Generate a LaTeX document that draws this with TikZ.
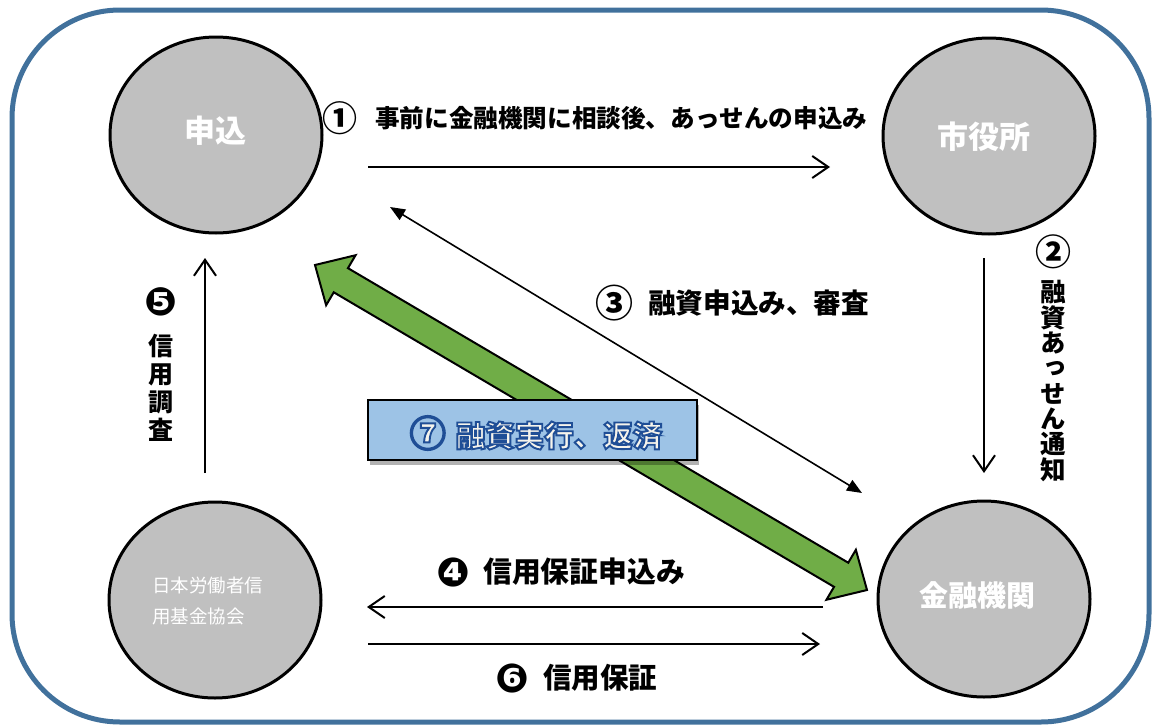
\documentclass[tikz,border=0pt]{standalone}
\usepackage{fontspec}
\usetikzlibrary{arrows.meta,shapes.geometric,calc,shadows}
\newfontfamily\jp{Noto Sans CJK JP}
\newfontfamily\jpv{Noto Sans CJK JP}[RawFeature=+vert]
\newfontfamily\dv{DejaVu Sans}
\definecolor{frameblue}{RGB}{65,113,156}
\definecolor{circgray}{RGB}{192,192,192}
\definecolor{arrgreen}{RGB}{112,173,71}
\definecolor{boxblue}{RGB}{157,195,230}
\definecolor{olblue}{RGB}{31,78,150}
\definecolor{oltxt}{RGB}{246,244,236}
% text filled in cream and stroked in blue (PDF text render mode 2)
\newcommand\outlinedtext[1]{\leavevmode\textcolor{oltxt}{%
  \special{pdf:literal direct 2 Tr 1.9 w 0.122 0.306 0.588 RG}#1%
  \special{pdf:literal direct 0 Tr}}}
\begin{document}
\begin{tikzpicture}[x=1pt,y=-1pt,
  station/.style={ellipse, draw=black, line width=3pt, fill=circgray,
    minimum width=212pt, minimum height=196pt, inner sep=0pt},
  ctext/.style={text=white, inner sep=0pt, font={\jp\bfseries\fontsize{31}{31}\selectfont}},
  flowarrow/.style={line width=2pt, -{Straight Barb[length=16pt,width=22pt,line width=2pt]}},
  thinarrow/.style={line width=1.6pt, {Triangle[length=15pt,width=12pt]}-{Triangle[length=15pt,width=12pt]}},
  heavylbl/.style={inner sep=0pt, anchor=west},
  numlbl/.style={inner sep=0pt},
  greenarrow/.style={fill=arrgreen, draw=black, line width=2pt, line join=miter},
  box7/.style={draw=black, line width=1.5pt, fill=boxblue, inner sep=0pt,
    minimum width=329pt, minimum height=60pt,
    drop shadow={shadow xshift=2pt, shadow yshift=-5pt, opacity=0.3, fill=black}}
]
\useasboundingbox (0,0) rectangle (1152,726);
% frame
\draw[frameblue, line width=5pt, rounded corners=108pt] (12,10) rectangle (1149,722);

% stations
\node[station] (shin) at (216,135) {};
\node[station] (shiyaku) at (989,136) {};
\node[station] (kinyu) at (984,599) {};
\node[station] (kyokai) at (215,600) {};
\node[ctext] (shinT) at (215,131) {申込};
\node[ctext] (shiyakuT) at (984,137) {市役所};
\node[ctext, font={\jp\bfseries\fontsize{29}{29}\selectfont}] (kinyuT) at (977,595) {金融機関};
\node[text=white, inner sep=0pt, anchor=west, align=left,
  font={\jp\fontsize{18.5}{31}\selectfont}] (kyokaiT) at (152,601) {日本労働者信\\用基金協会};

% coordinates for connector ends
\coordinate (a1s) at (368,167);
\coordinate (a1e) at (830,167);
\coordinate (a2s) at (984,258);
\coordinate (a2e) at (984,473);
\coordinate (a3s) at (862,493);
\coordinate (a3e) at (390,207);
\coordinate (a4s) at (823,607);
\coordinate (a4e) at (367,607);
\coordinate (a6s) at (368,644);
\coordinate (a6e) at (820,644);
\coordinate (a5s) at (205,473);
\coordinate (a5e) at (205,258);

% (3) thin double arrow
\draw[thinarrow] (a3e) -- (a3s);

% green double block arrow
\coordinate (gA) at (315,265);
\coordinate (gB) at (867,590);
\path ($(gA)!30pt!(gB)$) coordinate (gAb) ($(gB)!30pt!(gA)$) coordinate (gBb);
\draw[greenarrow] (gA) -- ($(gAb)!29pt!90:(gB)$) -- ($(gAb)!14pt!90:(gB)$)
  -- ($(gBb)!14pt!-90:(gA)$) -- ($(gBb)!29pt!-90:(gA)$) -- (gB)
  -- ($(gBb)!29pt!90:(gA)$) -- ($(gBb)!14pt!90:(gA)$)
  -- ($(gAb)!14pt!-90:(gB)$) -- ($(gAb)!29pt!-90:(gB)$) -- cycle;

% box 7
\node[box7] (b7) at (532.5,430) {};
\node[inner sep=0pt, font={\jp\bfseries\fontsize{29.5}{29.5}\selectfont}] (b7t) at (536,433)
  {\outlinedtext{{\fontsize{36}{36}\selectfont ⑦}\hspace{10pt}融資実行、返済}};

% other arrows
\draw[flowarrow] (a1s) -- (a1e);
\draw[flowarrow] (a2s) -- (a2e);
\draw[flowarrow] (a4s) -- (a4e);
\draw[flowarrow] (a6s) -- (a6e);
\draw[flowarrow] (a5s) -- (a5e);

% labels
\node[numlbl, font={\jp\bfseries\fontsize{35}{35}\selectfont}] (n1) at (339.5,118) {①};
\node[heavylbl, font={\jp\bfseries\fontsize{24.6}{25}\selectfont}] (t1) at (375,118) {事前に金融機関に相談後、あっせんの申込み};

\node[numlbl, font={\jp\bfseries\fontsize{38}{38}\selectfont}] (n3) at (614.5,303) {③};
\node[heavylbl, font={\jp\bfseries\fontsize{27.6}{28}\selectfont}] (t3) at (648,303) {融資申込み、審査};

\node[numlbl, font={\dv\bfseries\fontsize{40}{40}\selectfont}] (n4) at (453.5,572) {❹};
\node[heavylbl, font={\jp\bfseries\fontsize{28.8}{29}\selectfont}] (t4) at (483,572) {信用保証申込み};

\node[numlbl, font={\dv\bfseries\fontsize{40}{40}\selectfont}] (n6) at (512.5,678) {❻};
\node[heavylbl, font={\jp\bfseries\fontsize{28.5}{29}\selectfont}] (t6) at (543,678) {信用保証};

\node[numlbl, font={\dv\bfseries\fontsize{39}{39}\selectfont}] (n5) at (161,302) {❺};
\node[numlbl, align=center, font={\jpv\bfseries\fontsize{25}{28}\selectfont}] (t5) at (161,387.5) {信\\用\\調\\査};

\node[numlbl, font={\jp\bfseries\fontsize{36}{36}\selectfont}] (n2) at (1053.5,252) {②};
\node[numlbl, align=center, font={\jpv\bfseries\fontsize{25.5}{25.3}\selectfont}] (t2) at (1053.5,381) {融\\資\\あ\\っ\\せ\\ん\\通\\知};
\end{tikzpicture}
\end{document}
